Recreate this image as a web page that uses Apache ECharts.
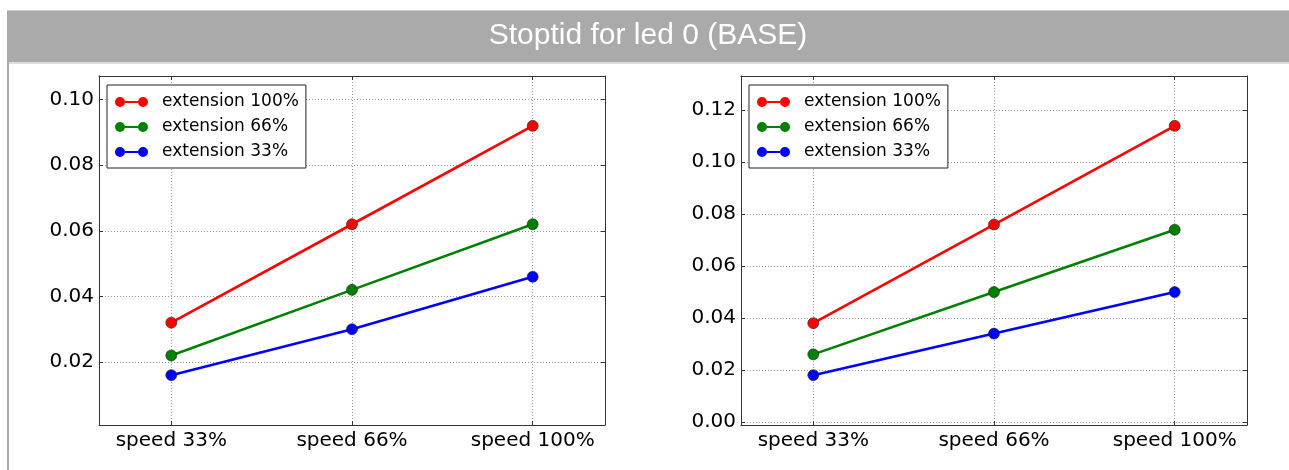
<!DOCTYPE html>
<html>
<head>
<meta charset="utf-8">
<script src="https://cdn.jsdelivr.net/npm/echarts@6/dist/echarts.min.js"></script>
<style>
  html, body { margin: 0; padding: 0; background: #fff; }
  #chart { width: 1289px; height: 470px; }
</style>
</head>
<body>
<div id="chart"></div>
<script>
// DATA
var categories = ["speed 33%", "speed 66%", "speed 100%"];
var seriesNames = ["extension 100%", "extension 66%", "extension 33%"];
var seriesColors = ["#ff0000", "#008000", "#0000ff"];

// left chart
var left100 = [0.032, 0.062, 0.092];
var left66 = [0.022, 0.042, 0.062];
var left33 = [0.016, 0.030, 0.046];
var leftTicks = [0.02, 0.04, 0.06, 0.08, 0.10];

// right chart
var right100 = [0.038, 0.076, 0.114];
var right66 = [0.026, 0.050, 0.074];
var right33 = [0.018, 0.034, 0.050];
var rightTicks = [0.0, 0.02, 0.04, 0.06, 0.08, 0.10, 0.12];

var xTicks = categories.map(function (c, i) { return i; });

var chart = echarts.init(document.getElementById("chart"));

// legend icon: two dots joined by a line, like matplotlib
var legendIcon =
  "path://M0,5 a5,5 0 1,0 10,0 a5,5 0 1,0 -10,0 Z M23,5 a5,5 0 1,0 10,0 a5,5 0 1,0 -10,0 Z M10,4 L23,4 L23,6 L10,6 Z";

var axisColor = "#333";
var labelFont = { color: "#000", fontSize: 20, fontFamily: "DejaVu Sans" };

function xAxes(gridIndex) {
  return [
    {
      gridIndex: gridIndex,
      type: "value",
      min: -0.4,
      max: 2.4,
      position: "bottom",
      axisLine: { onZero: false, lineStyle: { color: axisColor, width: 1 } },
      axisTick: { inside: true, length: 4, customValues: xTicks, lineStyle: { color: axisColor } },
      axisLabel: Object.assign({
        customValues: xTicks,
        margin: 6,
        formatter: function (v) { return categories[Math.round(v)]; },
      }, labelFont),
      splitLine: { show: true, lineStyle: { color: "#999", type: [1, 2], width: 1 } },
    },
    {
      gridIndex: gridIndex,
      type: "value",
      min: -0.4,
      max: 2.4,
      position: "top",
      axisLine: { onZero: false, lineStyle: { color: axisColor, width: 1 } },
      axisTick: { inside: true, length: 4, customValues: xTicks, lineStyle: { color: axisColor } },
      axisLabel: { show: false },
      splitLine: { show: false },
    },
  ];
}

function yAxes(gridIndex, min, max, ticks) {
  return [
    {
      gridIndex: gridIndex,
      type: "value",
      min: min,
      max: max,
      position: "left",
      axisLine: { show: true, onZero: false, lineStyle: { color: axisColor, width: 1 } },
      axisTick: { show: true, inside: true, length: 4, customValues: ticks, lineStyle: { color: axisColor } },
      axisLabel: Object.assign({
        customValues: ticks,
        margin: 5,
        formatter: function (v) { return v.toFixed(2); },
      }, labelFont),
      splitLine: { show: true, lineStyle: { color: "#999", type: [1, 2], width: 1 } },
    },
    {
      gridIndex: gridIndex,
      type: "value",
      min: min,
      max: max,
      position: "right",
      axisLine: { show: true, onZero: false, lineStyle: { color: axisColor, width: 1 } },
      axisTick: { show: true, inside: true, length: 4, customValues: ticks, lineStyle: { color: axisColor } },
      axisLabel: { show: false },
      splitLine: { show: false },
    },
  ];
}

function lineSeries(name, values, color, axisIndex) {
  return {
    name: name,
    type: "line",
    xAxisIndex: axisIndex,
    yAxisIndex: axisIndex,
    data: values.map(function (v, i) { return [i, v]; }),
    symbol: "circle",
    symbolSize: 11,
    color: color,
    lineStyle: { color: color, width: 2.6 },
    itemStyle: { color: color, borderColor: "#222", borderWidth: 0.6 },
    emphasis: { disabled: true },
    animation: false,
  };
}

function legendFor(left, seriesIds) {
  return {
    left: left,
    top: 85,
    orient: "vertical",
    data: seriesIds.map(function (id, i) {
      return { name: id, icon: legendIcon, itemStyle: { color: seriesColors[i], borderWidth: 0 } };
    }),
    formatter: function (name) { return name.split("|")[0]; },
    itemWidth: 33,
    itemHeight: 10,
    itemGap: 5,
    padding: [7, 7, 6, 8],
    borderColor: "#222",
    borderWidth: 1,
    backgroundColor: "#fff",
    selectedMode: false,
    itemStyle: { borderWidth: 0 },
    lineStyle: { width: 0 },
    textStyle: { color: "#000", fontSize: 17, fontFamily: "DejaVu Sans", lineHeight: 20, padding: [0, 0, 0, 9] },
  };
}

// names must be unique per legend, so the right chart gets a suffix
var leftNames = seriesNames.map(function (n) { return n + "|L"; });
var rightNames = seriesNames.map(function (n) { return n + "|R"; });

chart.setOption({
  animation: false,
  graphic: [
    { type: "rect", shape: { x: 7, y: 10, width: 1282, height: 52 }, style: { fill: "#aaaaaa" } },
    { type: "rect", shape: { x: 7, y: 10, width: 1282, height: 1 }, style: { fill: "#cccccc" } },
    { type: "rect", shape: { x: 7, y: 62, width: 1282, height: 2 }, style: { fill: "#dddddd" } },
    { type: "rect", shape: { x: 7, y: 62, width: 2, height: 408 }, style: { fill: "#aaaaaa" } },
    {
      type: "text",
      style: {
        text: "Stoptid for led 0 (BASE)",
        x: 648,
        y: 36,
        align: "center",
        verticalAlign: "middle",
        fill: "#ffffff",
        font: '30px "Liberation Sans"',
      },
    },
  ],
  grid: [
    { left: 99, top: 76, width: 506, height: 349 },
    { left: 741, top: 76, width: 506, height: 349 },
  ],
  xAxis: xAxes(0).concat(xAxes(1)),
  yAxis: yAxes(0, 0.0008, 0.1072, leftTicks).concat(yAxes(1, -0.0012, 0.1332, rightTicks)),
  legend: [legendFor(107, leftNames), legendFor(749, rightNames)],
  series: [
    lineSeries(leftNames[0], left100, seriesColors[0], 0),
    lineSeries(leftNames[1], left66, seriesColors[1], 0),
    lineSeries(leftNames[2], left33, seriesColors[2], 0),
    lineSeries(rightNames[0], right100, seriesColors[0], 2),
    lineSeries(rightNames[1], right66, seriesColors[1], 2),
    lineSeries(rightNames[2], right33, seriesColors[2], 2),
  ],
});
</script>
</body>
</html>
